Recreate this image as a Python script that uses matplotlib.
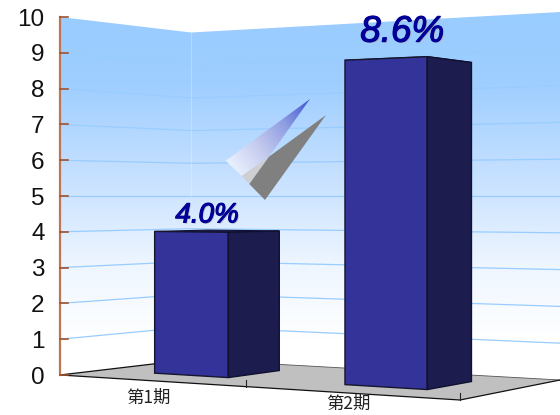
import numpy as np
import matplotlib
matplotlib.use("Agg")
import matplotlib.pyplot as plt
from matplotlib.patches import Polygon
from matplotlib.colors import LinearSegmentedColormap
import matplotlib.patheffects as pe

categories = ["第1期", "第2期"]
values = [4.0, 8.6]
yTicks = list(range(0, 11))

# floor corners in pixels, left-front / right-front / right-back / left-back
floorA, floorB, floorC, floorD = (60, 375), (460, 400), (560, 380), (191, 359.5)
horizon = 196
horizonValue = 5.0
barHalfWidth = 0.1
barFront, barBack = 0.30, 0.72
floorTicks = [0.493, 1.0]
fig = plt.figure(figsize=(5.6, 4.15), dpi=100)
ax = fig.add_axes([0, 0, 1, 1])
ax.set_xlim(0, 560)
ax.set_ylim(415, 0)
ax.axis("off")


def floorPoint(u, t):
    # maps the unit square onto the floor quad
    dx1, dx2 = floorB[0] - floorC[0], floorD[0] - floorC[0]
    dy1, dy2 = floorB[1] - floorC[1], floorD[1] - floorC[1]
    sx = floorA[0] - floorB[0] + floorC[0] - floorD[0]
    sy = floorA[1] - floorB[1] + floorC[1] - floorD[1]
    det = dx1 * dy2 - dx2 * dy1
    g = (sx * dy2 - dx2 * sy) / det
    h = (dx1 * sy - sx * dy1) / det
    a = floorB[0] - floorA[0] + g * floorB[0]
    b = floorD[0] - floorA[0] + h * floorD[0]
    d = floorB[1] - floorA[1] + g * floorB[1]
    e = floorD[1] - floorA[1] + h * floorD[1]
    w = g * u + h * t + 1
    return (a * u + b * t + floorA[0]) / w, (d * u + e * t + floorA[1]) / w


def project(u, t, v):
    x, yFloor = floorPoint(u, t)
    return x, horizon + (horizonValue - v) / horizonValue * (yFloor - horizon)


def gradientPoly(points, image, extent, zorder, **kw):
    im = ax.imshow(image, extent=extent, aspect="auto", zorder=zorder, interpolation="bilinear", **kw)
    patch = Polygon(points, closed=True, transform=ax.transData, fc="none", ec="none")
    ax.add_patch(patch)
    im.set_clip_path(patch)


# back walls
top = yTicks[-1]
wall = [project(0, 0, top), project(0, 1, top), project(1, 1, top),
        project(1, 1, 0), project(0, 1, 0), project(0, 0, 0)]
wallCmap = LinearSegmentedColormap.from_list("wall", [(0, "#99ccff"), (0.2, "#9fceff"), (0.5, "#cfe5ff"),
                                                      (0.68, "#eef6ff"), (0.88, "#ffffff"), (1, "#ffffff")])
rows = np.linspace(0, 1, 256).reshape(-1, 1)
gradientPoly(wall, rows, (0, 560, 385, 10), 1, cmap=wallCmap)

for v in yTicks[1:-1]:
    pts = [project(0, 0, v), project(0, 1, v), project(1, 1, v)]
    ax.plot(*zip(*pts), color="#99ccff", lw=0.9, zorder=2, solid_joinstyle="round")
ax.plot(*zip(project(0, 1, top), project(0, 1, 5)), color="#ffffff", lw=0.8, alpha=0.25, zorder=2)

# floor
ax.add_patch(Polygon([floorA, floorB, floorC, floorD], closed=True, fc="#c0c0c0", ec="none", zorder=3))
ax.plot(*zip(floorD, floorA, floorB, floorC), color="#111111", lw=0.9, zorder=4)
ax.plot(*zip(floorD, floorC), color="#555555", lw=0.6, zorder=3)
for u in floorTicks:
    x, y = floorPoint(u, 0)
    ax.plot([x, x], [y, y - 7], color="#222222", lw=0.8, zorder=4)

# value axis
ax.plot(*zip(project(0, 0, 0), project(0, 0, top)), color="#bb7755", lw=1.6, zorder=5)
for v in yTicks:
    x, y = project(0, 0, v)
    ax.plot([x, x + 8], [y, y], color="#a0522d", lw=1.2, zorder=5)
    ax.text(44.5, y, str(v), ha="right", va="center_baseline", fontsize=17.5, color="#111111",
            family="Liberation Sans", zorder=6)

# folded arrow decoration
arrow = [(225.7, 160.7), (310, 99), (269, 156.7), (241.7, 176)]
xx, yy = np.meshgrid(np.linspace(225, 311, 120), np.linspace(98, 177, 120))
along = ((xx - 225.7) * 84.3 + (yy - 160.7) * -61.7) / (84.3 ** 2 + 61.7 ** 2)
arrowCmap = LinearSegmentedColormap.from_list("arrow", ["#eaf2fd", "#c5cbee", "#8f9de2", "#3f55d0"])
gradientPoly(arrow, np.clip(along, 0, 1), (225, 311, 177, 98), 6, cmap=arrowCmap, origin="upper")
ax.add_patch(Polygon([(241.7, 176), (249.3, 184), (269, 156.7)], closed=True, fc="#cfcfd2", ec="none", zorder=6))
ax.add_patch(Polygon([(326, 115), (265, 200), (249.3, 184), (269, 156.7)], closed=True,
                     fc="#808080", ec="none", zorder=6))

# bars, one box per category
for i, value in enumerate(values):
    c = (i + 0.495) / len(categories)
    left, right = c - barHalfWidth, c + barHalfWidth
    lf0, rf0 = project(left, barFront, 0), project(right, barFront, 0)
    rb0 = project(right, barBack, 0)
    lfV, rfV = project(left, barFront, value), project(right, barFront, value)
    rbV, lbV = project(right, barBack, value), project(left, barBack, value)
    ax.add_patch(Polygon([lfV, rfV, rbV, lbV], closed=True, fc="#1c1c50", ec="#10103a", lw=0.8, zorder=7))
    ax.add_patch(Polygon([lf0, rf0, rfV, lfV], closed=True, fc="#333399", ec="#15152e", lw=1.0, zorder=8))
    ax.add_patch(Polygon([rf0, rb0, rbV, rfV], closed=True, fc="#1c1c4e", ec="#101030", lw=1.0, zorder=8))

    # value label sits above the box, larger for the nearer box
    size = 20 if value < horizonValue else 26.5
    lx = (lfV[0] + rbV[0]) / 2 + (-10 if value < horizonValue else -6)
    ly = min(lfV[1], rfV[1]) - (3 if value < horizonValue else 7)
    ax.text(lx, ly, f"{value:.1f}%", ha="center", va="bottom", fontsize=size, style="italic",
            family="Liberation Sans", color="#000099", zorder=10,
            path_effects=[pe.withSimplePatchShadow(offset=(0.8, -0.8), shadow_rgbFace="#aaaaaa", alpha=0.9),
                          pe.withStroke(linewidth=0.8, foreground="#000099")])

    # category label under the front edge
    x, y = floorPoint((i + 0.5) / len(categories), 0)
    ax.text(x - 3, y + 17 - i * 6, categories[i], ha="center", va="center", fontsize=12.5,
            family=["Noto Sans CJK SC", "DejaVu Sans"], color="#222222", zorder=10)

fig.savefig("out.png", dpi=100, facecolor="white")
